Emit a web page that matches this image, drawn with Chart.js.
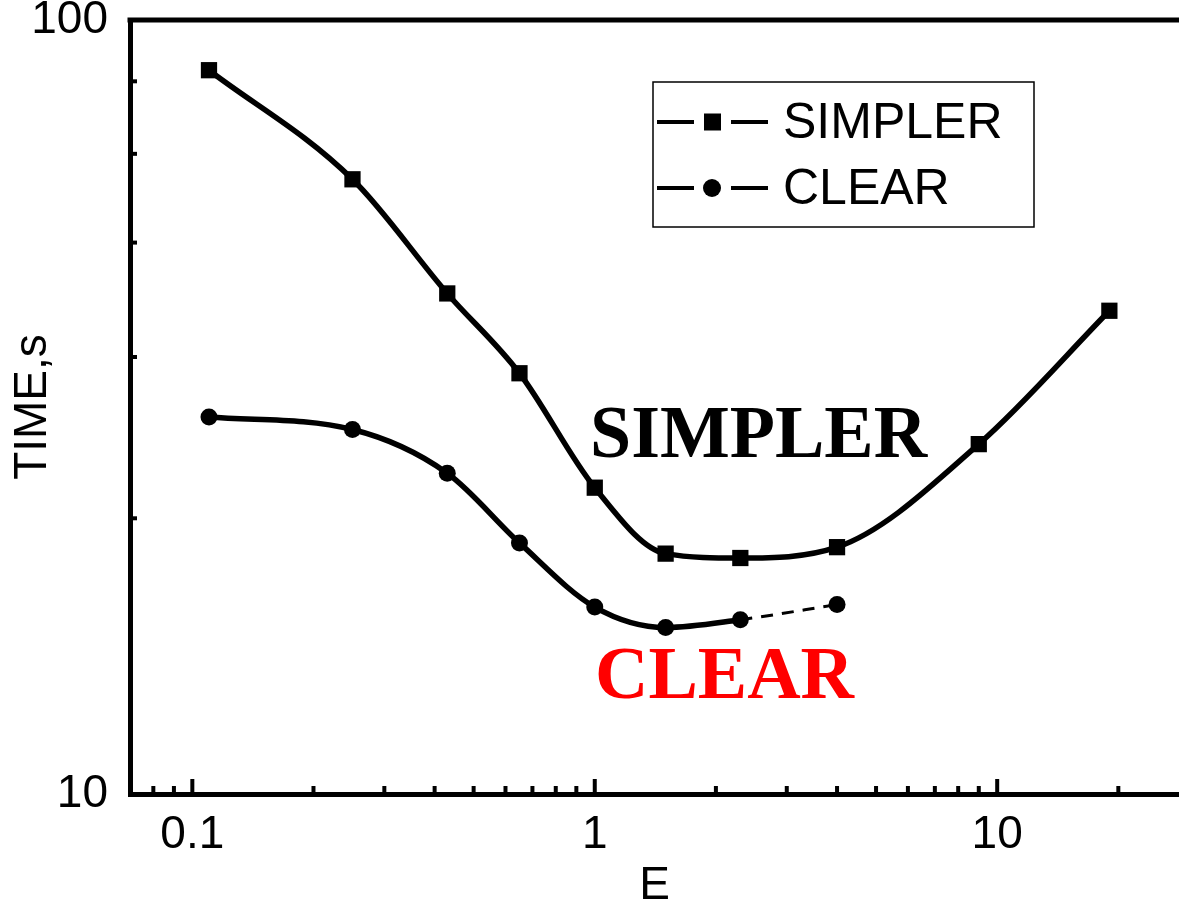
<!DOCTYPE html>
<html><head><meta charset="utf-8">
<script src="https://cdn.jsdelivr.net/npm/chart.js@4"></script>
<style>html,body{margin:0;padding:0;background:#fff;overflow:hidden}#wrap{width:1179px;height:906px}</style>
</head><body><div id="wrap"><canvas id="c" width="1179" height="906"></canvas></div>
<script>
// ---- data ----
const SIMPLER_E = [0.11, 0.25, 0.43, 0.65, 1.0, 1.5, 2.3, 4.0, 9.0, 19.0];
const SIMPLER_TIME = [61.7, 46.9, 35.2, 28.8, 21.6, 18.3, 18.1, 18.6, 24.1, 33.7];
const CLEAR_E = [0.11, 0.25, 0.43, 0.65, 1.0, 1.5, 2.3, 4.0];
const CLEAR_TIME = [25.8, 25.0, 22.4, 18.8, 16.0, 15.2, 15.5, 16.1];
const X_TICKS = [0.08, 0.09, 0.1, 0.2, 0.3, 0.4, 0.5, 0.6, 0.7, 0.8, 0.9, 1, 2, 3, 4, 5, 6, 7, 8, 9, 10, 20];
const X_TICK_LABELS = ['', '', '0.1', '', '', '', '', '', '', '', '', '1', '', '', '', '', '', '', '', '', '10', ''];
const Y_TICKS = [10, 20, 30, 40, 50, 60, 70];
const Y_TICK_LABELS = ['10', '', '', '', '', '', '100'];
const SERIES_NAMES = ['SIMPLER', 'CLEAR'];
const X_TITLE = 'E';
const Y_TITLE = 'TIME,s';

const toPts = (xs, ys) => xs.map((x, i) => ({x: x, y: ys[i]}));
const FONT = 'Liberation Sans, Arial, sans-serif';

const decor = {
  id: 'decor',
  afterDraw(chart) {
    const {ctx, chartArea: a, scales: {x, y}} = chart;
    ctx.save();
    ctx.strokeStyle = '#000';
    // top border
    ctx.lineWidth = 5;
    ctx.beginPath(); ctx.moveTo(a.left - 2.5, a.top); ctx.lineTo(a.right + 5, a.top); ctx.stroke();
    // inner ticks
    ctx.lineWidth = 4;
    X_TICKS.forEach((v, i) => {
      const px = x.getPixelForValue(v);
      const len = X_TICK_LABELS[i] ? 15 : 8;
      ctx.beginPath(); ctx.moveTo(px, a.bottom); ctx.lineTo(px, a.bottom - len); ctx.stroke();
    });
    Y_TICKS.forEach((v, i) => {
      if (i === 0 || i === Y_TICKS.length - 1) return;
      const py = y.getPixelForValue(v);
      ctx.beginPath(); ctx.moveTo(a.left, py); ctx.lineTo(a.left + 7, py); ctx.stroke();
    });
    // legend
    ctx.lineWidth = 1.5;
    ctx.strokeRect(653, 82, 381, 145);
    const rows = [122, 188];
    chart.data.datasets.forEach((ds, i) => {
      const yy = rows[i];
      ctx.lineWidth = 4;
      ctx.beginPath();
      ctx.moveTo(657, yy); ctx.lineTo(694, yy);
      ctx.moveTo(731, yy); ctx.lineTo(768, yy);
      ctx.stroke();
      ctx.fillStyle = '#000';
      if (ds.pointStyle === 'rect') {
        ctx.fillRect(704, yy - 8.5, 17, 17);
      } else {
        ctx.beginPath(); ctx.arc(712, yy, 9, 0, Math.PI * 2); ctx.fill();
      }
      ctx.font = '50px ' + FONT;
      ctx.textBaseline = 'middle';
      ctx.textAlign = 'left';
      ctx.fillText(ds.label, 783, yy + 2);
    });
    // in-plot annotations
    ctx.font = 'bold 74px "Liberation Serif", "Times New Roman", serif';
    ctx.textBaseline = 'alphabetic';
    ctx.fillStyle = '#000';
    ctx.fillText(SERIES_NAMES[0], 590, 457);
    ctx.fillStyle = '#ff0000';
    ctx.fillText(SERIES_NAMES[1], 595, 698);
    ctx.restore();
  }
};

new Chart(document.getElementById('c'), {
  type: 'scatter',
  data: {
    datasets: [
      {
        label: SERIES_NAMES[0],
        data: toPts(SIMPLER_E, SIMPLER_TIME),
        showLine: true,
        borderColor: '#000', backgroundColor: '#000',
        borderWidth: 5.5,
        cubicInterpolationMode: 'monotone',
        pointStyle: 'rect', pointRadius: 11.5, pointBorderWidth: 0
      },
      {
        label: SERIES_NAMES[1],
        data: toPts(CLEAR_E, CLEAR_TIME),
        showLine: true,
        borderColor: '#000', backgroundColor: '#000',
        borderWidth: 5.5,
        cubicInterpolationMode: 'monotone',
        pointStyle: 'circle', pointRadius: 8.5, pointBorderWidth: 0,
        segment: {
          borderDash: c => c.p0DataIndex === CLEAR_E.length - 2 ? [12, 9] : undefined,
          borderWidth: c => c.p0DataIndex === CLEAR_E.length - 2 ? 3 : 5.5
        }
      }
    ]
  },
  options: {
    responsive: false,
    animation: false,
    devicePixelRatio: 1,
    layout: {autoPadding: false, padding: {top: 20, right: 0, left: 0, bottom: 0}},
    plugins: {legend: {display: false}, tooltip: {enabled: false}},
    scales: {
      x: {
        type: 'logarithmic', position: 'bottom', min: 0.07, max: 28.3,
        grid: {display: true, drawOnChartArea: false, drawTicks: false},
        border: {display: true, width: 5, color: '#000'},
        ticks: {
          color: '#000', font: {family: FONT, size: 46}, padding: 14,
          autoSkip: false, maxRotation: 0, minRotation: 0,
          callback: (v) => { const i = X_TICKS.indexOf(v); return i >= 0 ? X_TICK_LABELS[i] : ''; }
        },
        title: {display: true, text: X_TITLE, color: '#000', font: {family: FONT, size: 46, lineHeight: 1}, padding: {top: 0, bottom: -3}},
        afterBuildTicks: s => { s.ticks = X_TICKS.map(v => ({value: v})); },
        afterFit: s => { s.height = 112; s.paddingLeft = 0; s.paddingRight = 0; }
      },
      y: {
        type: 'logarithmic', position: 'left', min: 10, max: 70,
        grid: {display: true, drawOnChartArea: false, drawTicks: false},
        border: {display: true, width: 5, color: '#000'},
        ticks: {
          color: '#000', font: {family: FONT, size: 46}, padding: 22,
          autoSkip: false,
          callback: (v) => { const i = Y_TICKS.indexOf(v); return i >= 0 ? Y_TICK_LABELS[i] : ''; }
        },
        title: {display: true, text: Y_TITLE, color: '#000', font: {family: FONT, size: 46, lineHeight: 1}, padding: {top: 10, bottom: 0}},
        afterBuildTicks: s => { s.ticks = Y_TICKS.map(v => ({value: v})); },
        afterFit: s => { s.width = 130; s.paddingTop = 0; s.paddingBottom = 0; }
      }
    }
  },
  plugins: [decor]
});
</script>
</body></html>
